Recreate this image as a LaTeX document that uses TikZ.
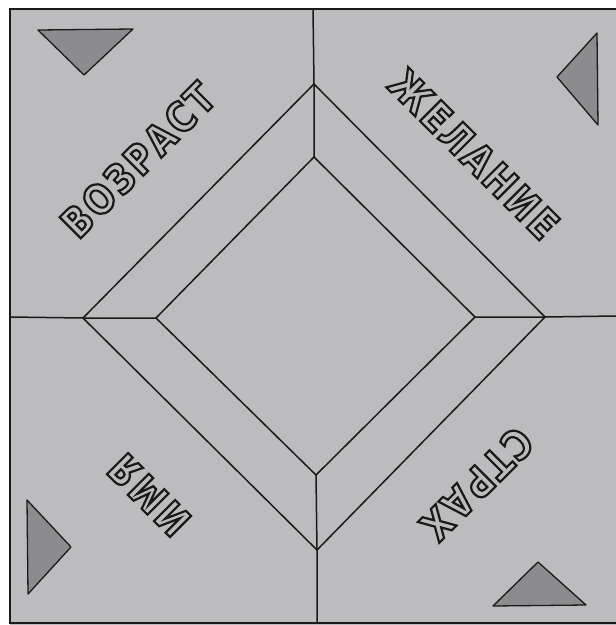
\documentclass[tikz,border=0pt]{standalone}
\usepackage{fontspec}
\usepackage{xcolor}
\usetikzlibrary{calc}
\newfontfamily\wordfont[FakeStretch=0.84, LetterSpace=7]{DejaVu Sans Bold}
\definecolor{paper}{HTML}{BCBCBE}
\definecolor{flag}{HTML}{8C8C8E}
\definecolor{ink}{HTML}{1A1A1A}
% outlined letters: fill with the paper colour, stroke in ink
\newcommand{\hollow}[1]{\special{pdf:code q 2 Tr 2.2 w 0.1 0.1 0.1 RG}#1\special{pdf:code Q}}

\begin{document}
\begin{tikzpicture}[
  x=1pt, y=-1pt,
  edge/.style = {draw=ink, line width=1.5pt, line join=miter},
  flagtri/.style = {draw=ink, line width=1.3pt, fill=flag, line join=round},
  word/.style = {font=\wordfont\fontsize{41}{41}\selectfont, text=paper,
                 inner sep=0pt}
]
\useasboundingbox (0,0) rectangle (616,625);

% ---------- paper ----------------------------------------------------------
\fill[paper] (10,9) rectangle (616,625);
\draw[edge] (616,9) -- (10,9) -- (10,623) -- (616,623);

% ---------- corners of the two diamonds ------------------------------------
\coordinate (ot) at (314,84);
\coordinate (ol) at (83,318);
\coordinate (or) at (545,317);
\coordinate (ob) at (317,550);
\coordinate (it) at (314,157);
\coordinate (il) at (156,318);
\coordinate (ir) at (475,317);
\coordinate (ib) at (316,475);

% ---------- where the folds meet the frame ---------------------------------
\coordinate (ft) at (313,9);
\coordinate (fl) at (10,317);
\coordinate (fr) at (616,316);
\coordinate (fb) at (317,623);

\draw[edge] (ot) -- (or) -- (ob) -- (ol) -- cycle;
\draw[edge] (it) -- (ir) -- (ib) -- (il) -- cycle;

\draw[edge] (ft) -- (ot) -- (it);
\draw[edge] (fl) -- (ol) -- (il);
\draw[edge] (fr) -- (or) -- (ir);
\draw[edge] (fb) -- (ob) -- (ib);

% ---------- triangles ------------------------------------------------------
\draw[flagtri] (38,30) -- (133,29) -- (84,75) -- cycle;
\draw[flagtri] (597,33) -- (557,77) -- (598,125) -- cycle;
\draw[flagtri] (27,500) -- (71,547) -- (28,594) -- cycle;
\draw[flagtri] (493,606) -- (538,562) -- (586,605) -- cycle;

% ---------- words ----------------------------------------------------------
\node[word, rotate=45]   (age)  at (138,160) {\hollow{ВОЗРАСТ}};
\node[word, rotate=-45]  (wish) at (474,154) {\hollow{ЖЕЛАНИЕ}};
\node[word, rotate=135]  (name) at (149,495) {\hollow{ИМЯ}};
\node[word, rotate=-135] (fear) at (477,484) {\hollow{СТРАХ}};

\end{tikzpicture}
\end{document}
